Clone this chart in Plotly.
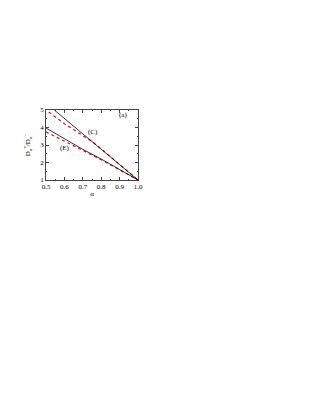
import plotly.graph_objects as go

# Data
c_black_x = [0.545, 0.6, 0.7, 0.8, 0.9, 1.0]
c_black_y = [5.0, 4.52, 3.64, 2.76, 1.88, 1.0]
c_red_x = [0.515, 0.55, 0.6, 0.65, 0.7, 0.75, 0.8, 0.9, 1.0]
c_red_y = [4.88, 4.6, 4.22, 3.88, 3.54, 3.2, 2.78, 1.9, 1.0]
e_black_x = [0.5, 0.6, 0.7, 0.8, 0.9, 1.0]
e_black_y = [3.97, 3.34, 2.75, 2.2, 1.6, 1.0]
e_red_x = [0.5, 0.6, 0.7, 0.8, 0.9, 1.0]
e_red_y = [3.75, 3.2, 2.69, 2.16, 1.58, 1.0]
x_ticks = [0.5, 0.6, 0.7, 0.8, 0.9, 1.0]
x_tick_labels = ["0.5", "0.6", "0.7", "0.8", "0.9", "1.0"]
y_ticks = [1, 2, 3, 4, 5]

font = dict(family="Liberation Serif", size=7, color="black")

fig = go.Figure()
fig.add_trace(go.Scatter(x=c_red_x, y=c_red_y, mode="lines",
                         line=dict(color="red", width=1.2, dash="dot")))
fig.add_trace(go.Scatter(x=c_black_x, y=c_black_y, mode="lines",
                         line=dict(color="black", width=0.8)))
fig.add_trace(go.Scatter(x=e_red_x, y=e_red_y, mode="lines",
                         line=dict(color="red", width=1.2, dash="dot")))
fig.add_trace(go.Scatter(x=e_black_x, y=e_black_y, mode="lines",
                         line=dict(color="black", width=0.8)))

axis_common = dict(showgrid=False, zeroline=False, showline=True, linecolor="#444",
                   linewidth=0.8, mirror="ticks", ticks="inside", ticklen=3,
                   tickcolor="#444", tickwidth=0.6, tickfont=font,
                   minor=dict(ticks="inside", ticklen=1.5, tickcolor="#444", tickwidth=0.5))

fig.update_xaxes(range=[0.5, 1.0], tickvals=x_ticks, ticktext=x_tick_labels,
                 title=dict(text="α", font=font, standoff=0),
                 minor_dtick=0.05, **axis_common)
fig.update_yaxes(range=[1, 5], tickvals=y_ticks,
                 title=dict(text="D<sub>α</sub><sup>*</sup>/D<sub>α</sub><sup>−</sup>", font=font, standoff=8),
                 minor_dtick=0.5, **axis_common)

fig.add_annotation(x=0.92, y=4.72, text="(a)", showarrow=False, font=font)
fig.add_annotation(x=0.757, y=3.76, text="(C)", showarrow=False, font=font)
fig.add_annotation(x=0.605, y=2.83, text="(E)", showarrow=False, font=font)

fig.update_layout(width=312, height=403, showlegend=False,
                  paper_bgcolor="white", plot_bgcolor="white",
                  margin=dict(l=38, r=182, t=102, b=231), font=font)

fig.write_html("out.html")
